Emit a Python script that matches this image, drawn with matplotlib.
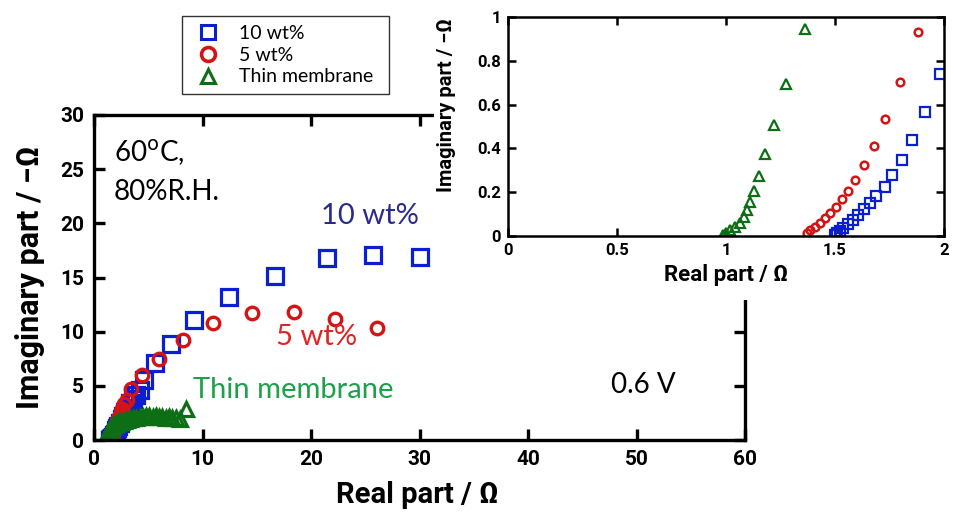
"""Nyquist plots of the three membranes at 0.6 V, with a zoomed inset."""
import matplotlib
matplotlib.use("Agg")
import matplotlib.pyplot as plt
from matplotlib.lines import Line2D
from matplotlib.patches import Rectangle

# impedance data: real part / ohm, imaginary part / -ohm
wt10_re = [1.498, 1.509, 1.521, 1.537, 1.560, 1.583, 1.606, 1.631, 1.659, 1.690,
           1.728, 1.763, 1.809, 1.855, 1.914, 1.983, 2.05, 2.15, 2.25, 2.4, 2.55,
           2.7, 2.9, 3.1, 3.35, 3.6, 3.9, 4.2, 4.6, 5.6, 7.1, 9.2, 12.4, 16.7,
           21.5, 25.7, 30.0]
wt10_im = [0.003, 0.012, 0.024, 0.038, 0.055, 0.073, 0.096, 0.122, 0.152, 0.184,
           0.226, 0.279, 0.345, 0.439, 0.564, 0.739, 0.9, 1.1, 1.3, 1.6, 1.9,
           2.2, 2.6, 3.0, 3.4, 3.8, 4.2, 4.6, 5.5, 7.1, 8.9, 11.1, 13.2, 15.1,
           16.8, 17.1, 16.9]

wt5_re = [1.373, 1.387, 1.407, 1.430, 1.456, 1.479, 1.506, 1.532, 1.560, 1.593,
          1.631, 1.677, 1.731, 1.797, 1.881, 1.95, 2.05, 2.15, 2.3, 2.45, 2.6,
          2.8, 3.0, 3.4, 4.4, 6.0, 8.2, 11.0, 14.6, 18.4, 22.2, 26.1]
wt5_im = [0.012, 0.027, 0.043, 0.061, 0.081, 0.104, 0.134, 0.168, 0.206, 0.256,
          0.322, 0.412, 0.534, 0.701, 0.931, 1.15, 1.45, 1.75, 2.1, 2.5, 2.9,
          3.3, 3.7, 4.7, 6.0, 7.5, 9.2, 10.8, 11.7, 11.8, 11.2, 10.3]

thin_re = [0.986, 1.001, 1.020, 1.040, 1.063, 1.081, 1.096, 1.112, 1.127, 1.150,
           1.177, 1.219, 1.277, 1.361, 1.45, 1.55, 1.65, 1.8, 1.95, 2.1, 2.3,
           2.5, 2.75, 3.0, 3.3, 3.6, 3.9, 4.2, 4.5, 4.8, 5.1, 5.4, 5.7, 6.0,
           6.3, 6.6, 6.9, 7.2, 7.6, 7.9, 8.5]
thin_im = [0.005, 0.015, 0.027, 0.043, 0.058, 0.088, 0.119, 0.157, 0.206, 0.276,
           0.375, 0.508, 0.694, 0.945, 1.05, 1.15, 1.25, 1.35, 1.45, 1.55, 1.62,
           1.7, 1.78, 1.85, 1.92, 2.0, 2.05, 2.1, 2.15, 2.2, 2.2, 2.15, 2.2, 2.1,
           2.15, 2.05, 2.1, 2.0, 2.05, 1.95, 2.85]

BLUE = "#0a1ed2"
RED = "#d41414"
GREEN = "#0d6e16"

LABEL = dict(family=["Roboto", "DejaVu Sans"], fontweight="bold")
TEXT_FONT = ["Lato", "DejaVu Sans"]

W, H = 957, 525
fig = plt.figure(figsize=(W / 100, H / 100), dpi=100)


def fx(px):
    return px / W


def fy(py):
    return 1 - py / H


def style_ticks(axis, size):
    for lab in axis.get_xticklabels() + axis.get_yticklabels():
        lab.set_family(LABEL["family"])
        lab.set_fontweight("bold")
        lab.set_fontsize(size)


# ---- main axes ----
ax = fig.add_axes([fx(94), fy(440), fx(651), 325 / H], zorder=0)
ax.plot(wt10_re, wt10_im, ls="none", marker="s", ms=11, mfc="none",
        mec=BLUE, mew=2.3)
ax.plot(wt5_re, wt5_im, ls="none", marker="o", ms=9, mfc="none",
        mec=RED, mew=2.4)
ax.plot(thin_re, thin_im, ls="none", marker="^", ms=10, mfc="none",
        mec=GREEN, mew=2.3)
ax.set_xlim(0, 60)
ax.set_ylim(0, 30)
ax.set_xticks(range(0, 61, 10))
ax.set_yticks(range(0, 31, 5))
for s in ax.spines.values():
    s.set_linewidth(2.4)
ax.tick_params(direction="in", length=8, width=2.4, top=True, right=True, pad=7)
style_ticks(ax, 15)
ax.set_xlabel("Real part / Ω", fontsize=21, **LABEL)
ax.set_ylabel("Imaginary part / −Ω", fontsize=22, **LABEL)
ax.xaxis.set_label_coords(0.497, -0.17)
ax.xaxis.label.set_va("center")
ax.yaxis.set_label_coords(-0.098, 0.50)
ax.yaxis.label.set_va("center")

# white block that the inset sits on
fig.add_artist(Rectangle((fx(434), fy(300)), 1 - fx(434), 300 / H,
                         transform=fig.transFigure, facecolor="white",
                         edgecolor="none", zorder=1))

# annotations
fig.text(fx(114), fy(153), "60$^{\\rm o}$C,", family=TEXT_FONT, fontsize=20,
         va="center", zorder=3)
fig.text(fx(114), fy(192), "80%R.H.", family=TEXT_FONT, fontsize=20,
         va="center", zorder=3)
fig.text(fx(321), fy(216), "10 wt%", family=TEXT_FONT, fontsize=21,
         color="#2a2a8e", va="center", zorder=3)
fig.text(fx(276), fy(337), "5 wt%", family=TEXT_FONT, fontsize=21,
         color="#e42222", va="center", zorder=3)
fig.text(fx(193), fy(390), "Thin membrane", family=TEXT_FONT, fontsize=21,
         color="#1fa04c", va="center", zorder=3)
fig.text(fx(611), fy(385), "0.6 V", family=TEXT_FONT, fontsize=20,
         va="center", zorder=3)

# ---- inset ----
ins = fig.add_axes([fx(508), fy(236), fx(436), 219 / H], zorder=2)
ins.plot(wt10_re, wt10_im, ls="none", marker="s", ms=7.5, mfc="none",
         mec=BLUE, mew=1.6)
ins.plot(wt5_re, wt5_im, ls="none", marker="o", ms=5.5, mfc="none",
         mec=RED, mew=1.8)
ins.plot(thin_re, thin_im, ls="none", marker="^", ms=6.5, mfc="none",
         mec=GREEN, mew=1.6)
ins.set_xlim(0, 2)
ins.set_ylim(0, 1)
ins.set_xticks([0, 0.5, 1, 1.5, 2])
ins.set_xticklabels(["0", "0.5", "1", "1.5", "2"])
ins.set_yticks([0, 0.2, 0.4, 0.6, 0.8, 1])
ins.set_yticklabels(["0", "0.2", "0.4", "0.6", "0.8", "1"])
for s in ins.spines.values():
    s.set_linewidth(1.8)
ins.tick_params(direction="in", length=6, width=1.8, top=True, right=True, pad=5)
style_ticks(ins, 12)
ins.set_xlabel("Real part / Ω", fontsize=16, **LABEL)
ins.set_ylabel("Imaginary part / −Ω", fontsize=14.5, **LABEL)
ins.xaxis.set_label_coords(0.50, -0.18)
ins.xaxis.label.set_va("center")
ins.yaxis.set_label_coords(-0.14, 0.60)
ins.yaxis.label.set_va("center")

# ---- legend ----
handles = [
    Line2D([], [], ls="none", marker="s", ms=10, mfc="none", mec=BLUE, mew=2.2),
    Line2D([], [], ls="none", marker="o", ms=10, mfc="none", mec=RED, mew=2.6),
    Line2D([], [], ls="none", marker="^", ms=10, mfc="none", mec=GREEN, mew=2.2),
]
leg = fig.legend(handles, ["10 wt%", "5 wt%", "Thin membrane"],
                 loc="upper left",
                 bbox_to_anchor=(fx(182), fy(102), fx(207), 86 / H),
                 mode="expand", frameon=True, fancybox=False,
                 edgecolor="black", prop={"family": TEXT_FONT, "size": 14},
                 handletextpad=0.7, labelspacing=0.25, borderpad=0.45,
                 handlelength=1.8, borderaxespad=0)
leg.get_frame().set_linewidth(1.0)
leg.set_zorder(4)

fig.savefig("out.png", dpi=100, facecolor="white")
